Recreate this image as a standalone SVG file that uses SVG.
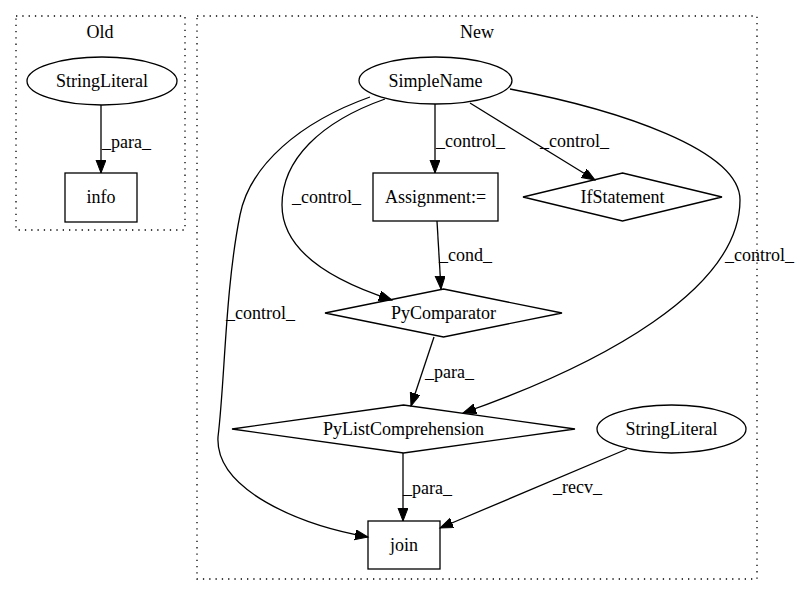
<svg xmlns="http://www.w3.org/2000/svg" width="799" height="596" viewBox="0 0 799 596">
<style>
text{font-family:"Liberation Serif","Times New Roman",serif;font-size:18px;fill:#000}
.n{text-anchor:middle}
.shape{fill:none;stroke:#000;stroke-width:1.3}
.cl{fill:none;stroke:#000;stroke-width:1.3;stroke-dasharray:1.3,5}
.e{fill:none;stroke:#000;stroke-width:1.3;marker-end:url(#ah)}
</style>
<defs>
<marker id="ah" markerUnits="userSpaceOnUse" markerWidth="15" markerHeight="12" refX="13" refY="5" orient="auto">
<path d="M0,0 L13,5 L0,10 z" fill="#000" stroke="#000" stroke-width="1"/>
</marker>
</defs>
<rect width="799" height="596" fill="#fff"/>
<g id="cluster_old">
<rect class="cl" x="16" y="16" width="169" height="214"/>
<text class="n" x="100" y="38">Old</text>
</g>
<g id="cluster_new">
<rect class="cl" x="197" y="16" width="560" height="563"/>
<text class="n" x="477" y="38">New</text>
</g>
<g id="edges">
<path class="e" d="M101,105 L101,173"/>
<text x="102" y="148">_para_</text>
<path class="e" d="M435,104 L435,173"/>
<text x="436" y="147">_control_</text>
<path class="e" d="M470,103 L595,180"/>
<text x="540" y="147">_control_</text>
<path class="e" d="M385,99 C320,122 282,160 282,205 C282,250 330,280 392,300"/>
<text x="292" y="203">_control_</text>
<path class="e" d="M370,97 C300,122 250,165 240,215 C225,290 225,380 218,437 C215,490 300,525 368,537"/>
<text x="226" y="319">_control_</text>
<path class="e" d="M510,89 C620,110 740,150 740,200 C740,290 600,365 463,413"/>
<text x="725" y="261">_control_</text>
<path class="e" d="M437,221 L441,289"/>
<text x="439" y="261">_cond_</text>
<path class="e" d="M434,337 L411,406"/>
<text x="425" y="378">_para_</text>
<path class="e" d="M403,453 L403,521"/>
<text x="403" y="494">_para_</text>
<path class="e" d="M627,449 L440,528"/>
<text x="553" y="493">_recv_</text>
</g>
<g id="node_stringliteral_old">
<ellipse class="shape" cx="102" cy="81" rx="75" ry="24"/>
<text class="n" x="102" y="87">StringLiteral</text>
</g>
<g id="node_info">
<rect class="shape" x="65" y="173" width="72" height="49"/>
<text class="n" x="101" y="203">info</text>
</g>
<g id="node_simplename">
<ellipse class="shape" cx="435.5" cy="80.5" rx="76.5" ry="23.5"/>
<text class="n" x="435.5" y="86.5">SimpleName</text>
</g>
<g id="node_assignment">
<rect class="shape" x="373" y="173" width="125" height="48"/>
<text class="n" x="435.5" y="203">Assignment:=</text>
</g>
<g id="node_ifstatement">
<polygon class="shape" points="622.5,173 722,197 622.5,221 523,197"/>
<text class="n" x="622.5" y="203">IfStatement</text>
</g>
<g id="node_pycomparator">
<polygon class="shape" points="443.5,289 562,313 443.5,337 325,313"/>
<text class="n" x="443.5" y="319">PyComparator</text>
</g>
<g id="node_pylistcomprehension">
<polygon class="shape" points="403.5,405 575,429 403.5,453 232,429"/>
<text class="n" x="403.5" y="435">PyListComprehension</text>
</g>
<g id="node_stringliteral_new">
<ellipse class="shape" cx="671.5" cy="429" rx="74.5" ry="24"/>
<text class="n" x="671.5" y="435">StringLiteral</text>
</g>
<g id="node_join">
<rect class="shape" x="368" y="521" width="72" height="48"/>
<text class="n" x="404" y="551">join</text>
</g>
</svg>
